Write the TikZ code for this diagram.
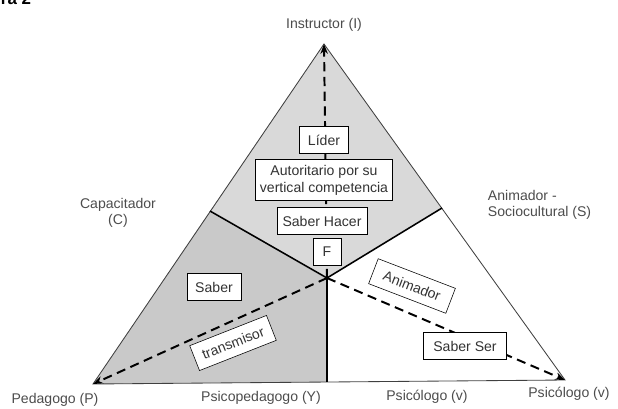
\documentclass[tikz,border=0pt]{standalone}
\usepackage{fontspec}
\setmainfont{Liberation Sans}
\usepackage{xcolor}
\usepackage{tikz}
\usetikzlibrary{arrows.meta}

\tikzset{
 caja/.style={draw, fill=white, text=black!80, inner xsep=6pt, inner ysep=4pt,
   minimum height=19pt, font=\fontsize{10}{12}\selectfont},
 rotulo/.style={text=black!70, font=\fontsize{10}{11}\selectfont},
 guia/.style={line width=1.4pt, dash pattern=on 6.5pt off 4pt, -{Stealth[length=7pt]}}
}

\begin{document}
\begin{tikzpicture}[x=0.025cm, y=-0.025cm]
 \useasboundingbox (0,0) rectangle (618,408);
 \coordinate (I) at (324,44);
 \coordinate (P) at (93,384);
 \coordinate (V) at (565,380);
 \coordinate (O) at (327,278);
 \coordinate (C) at (210,211);
 \coordinate (S) at (442,208);
 \coordinate (Y) at (327,382);
 % zonas
 \fill [gray!30] (I) -- (S) -- (O) -- (C) -- cycle;
 \fill [gray!42] (C) -- (O) -- (Y) -- (P) -- cycle;
 \draw [black!75, semithick] (I) -- (P) -- (V) -- cycle;
 \draw [line width=1.1pt] (C) -- (O) -- (S);
 \draw [thick] (O) -- (Y);
 % flechas
 \draw [guia] (O) -- (I);
 \draw [guia] (O) -- (P);
 \draw [guia] (O) -- (V);
 % cajas
 \node [caja] (lider) at (324,140) {Líder};
 \node [caja, inner xsep=3pt, align=center] (autor) at (324,180) {Autoritario por su\\vertical competencia};
 \node [caja, inner xsep=4pt] (hacer) at (322,221) {Saber Hacer};
 \node [caja, minimum width=20pt, inner xsep=3pt] (f) at (327,252) {F};
 \node [caja] (saber) at (214,287) {Saber};
 \node [caja, rotate=21.5, inner ysep=3pt] (transm) at (233,343) {transmisor};
 \node [caja, rotate=-21, inner xsep=8pt, inner ysep=3pt] (anim) at (412,286) {Animador};
 \node [caja, inner xsep=7pt] (ser) at (465,346) {Saber Ser};
 % rotulos
 \node [rotulo] (instr) at (324,25) {Instructor (I)};
 \node [rotulo, align=center] (capac) at (118,213) {Capacitador\\(C)};
 \node [rotulo, align=left, anchor=west] (animS) at (483,205) {Animador -\\Sociocultural (S)};
 \node [rotulo] (ped) at (55,400) {Pedagogo (P)};
 \node [rotulo] (psped) at (261,398) {Psicopedagogo (Y)};
 \node [rotulo] (psic) at (427,397) {Psicólogo (v)};
 \node [rotulo] (psic2) at (569,394) {Psicólogo (v)};
 \node [font=\bfseries\fontsize{12}{12}\selectfont, anchor=base west] (fig) at (-4,4) {ra 2};
\end{tikzpicture}
\end{document}
